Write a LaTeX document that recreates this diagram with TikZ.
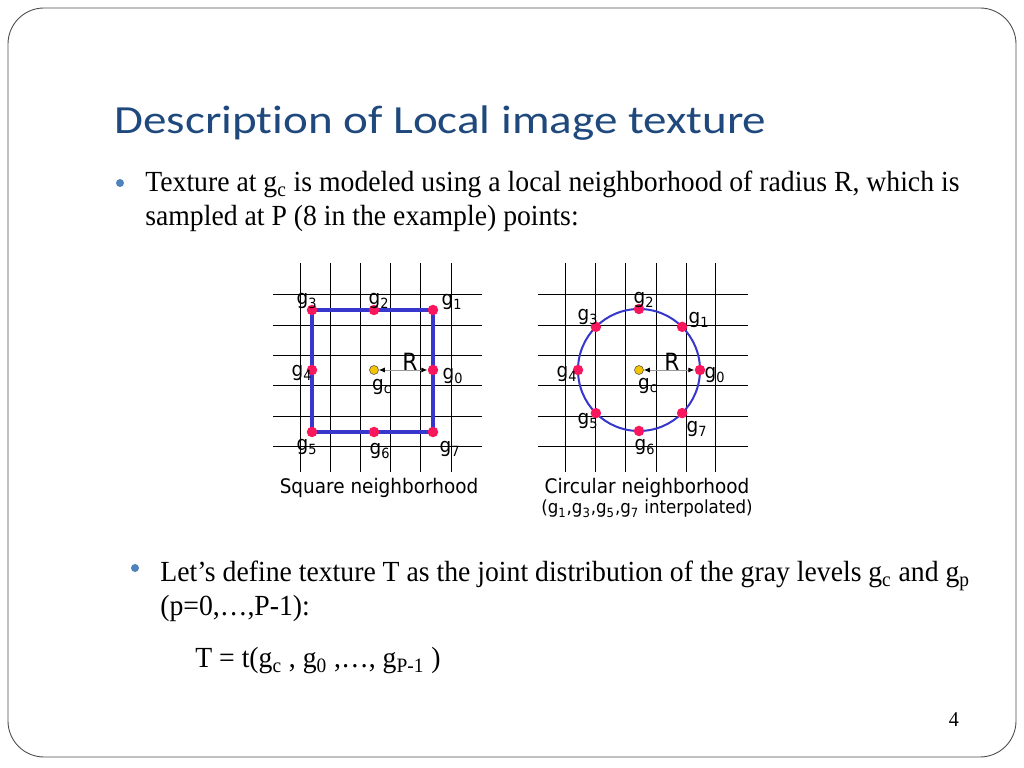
\documentclass[tikz,border=0pt]{standalone}
\usepackage{fontspec}
\setmainfont{Liberation Serif}[FakeStretch=0.95]
\newfontfamily\titlefont{Carlito}[FakeStretch=1.18, Ligatures=NoCommon]
\newfontfamily\figfont{DejaVu Sans}[FakeStretch=0.92]
\usetikzlibrary{calc, arrows.meta}

\definecolor{titleblue}{RGB}{31,73,125}
\definecolor{bulletblue}{RGB}{79,129,189}
\definecolor{nbrblue}{RGB}{55,55,205}
\definecolor{dotred}{RGB}{248,22,92}
\definecolor{dotyellow}{RGB}{245,196,0}

\newcommand{\gl}[1]{g\textsubscript{#1}}

\tikzset{
    txt/.style={anchor=base west, inner sep=0pt, font=\fontsize{16.6}{19}\selectfont},
    glabel/.style={inner sep=0pt, font=\figfont\fontsize{11.4}{13}\selectfont},
    sample/.style={circle, fill=dotred, inner sep=0pt, minimum size=2.1mm},
    centre/.style={circle, fill=dotyellow, draw=black!70, line width=0.3pt, inner sep=0pt, minimum size=1.8mm},
    bullet/.style={circle, fill=bulletblue, inner sep=0pt, minimum size=1.6mm},
    radius arrow/.style={draw=black!40, line width=0.5pt,
        {Latex[black, length=1.2mm, width=1mm]}-{Latex[black, length=1.2mm, width=1mm]}},
}

\begin{document}
\begin{tikzpicture}[x=0.2mm, y=-0.2mm]
    \useasboundingbox (0,0) rectangle (1024,768);
    \draw[black!70, line width=0.5pt, rounded corners=7.2mm] (8,8) rectangle (1016,757);

    \node[anchor=base west, inner sep=0pt, text=titleblue,
        font=\titlefont\fontsize{22.7}{27}\selectfont] (title) at (114,134)
        {Description of Local image texture};

    \node[bullet] (b1) at (120,183) {};
    \node[txt] (l1) at (145,192)
        {Texture at \gl{c} is modeled using a local neighborhood of radius R, which is};
    \node[txt] (l2) at (145,226) {sampled at P (8 in the example) points:};

    % square neighborhood
    \foreach \x in {300,330,360,390,420,451}
        \draw[line width=0.5pt] (\x,263) -- (\x,472);
    \foreach \y in {294,325,355,385,416,446}
        \draw[line width=0.5pt] (273,\y) -- (482,\y);

    \coordinate (p0) at (433,370);
    \coordinate (p1) at (433,310);
    \coordinate (p2) at (374,310);
    \coordinate (p3) at (312,310);
    \coordinate (p4) at (312,370);
    \coordinate (p5) at (312,432);
    \coordinate (p6) at (374,432);
    \coordinate (p7) at (433,432);

    \draw[nbrblue, line width=0.8mm] (p1) -- (p3) -- (p5) -- (p7) -- cycle;
    \foreach \k in {0,...,7}
        \node[sample] (s\k) at (p\k) {};
    \node[centre] (sc) at (374,370) {};
    \draw[radius arrow] (sc) -- (s0);

    \node[glabel] at (307,301) {\gl{3}};
    \node[glabel] at (379,301) {\gl{2}};
    \node[glabel] at (452,302) {\gl{1}};
    \node[glabel] at (302,373) {\gl{4}};
    \node[glabel] at (453,376) {\gl{0}};
    \node[glabel] at (382,387) {\gl{c}};
    \node[glabel] at (307,447) {\gl{5}};
    \node[glabel] at (380,451) {\gl{6}};
    \node[glabel] at (450,449) {\gl{7}};
    \node[glabel, font=\figfont\fontsize{13.5}{15}\selectfont] at (410,362) {R};
    \node[glabel] (sqname) at (379,488) {Square neighborhood};

    % circular neighborhood
    \foreach \x in {565,595,625,656,686,715}
        \draw[line width=0.5pt] (\x,263) -- (\x,472);
    \foreach \y in {294,325,355,385,416,446}
        \draw[line width=0.5pt] (538,\y) -- (748,\y);

    \coordinate (cc) at (639,370);
    \draw[nbrblue, line width=0.4mm] (cc) circle (61);
    \foreach \k in {0,...,7}
        \node[sample] (c\k) at ($(cc)+({-45*\k}:61)$) {};
    \node[centre] (ccen) at (cc) {};
    \draw[radius arrow] (ccen) -- (c0);

    \node[glabel] at (644,300) {\gl{2}};
    \node[glabel] at (699,320) {\gl{1}};
    \node[glabel] at (588,317) {\gl{3}};
    \node[glabel] at (567,374) {\gl{4}};
    \node[glabel] at (715,375) {\gl{0}};
    \node[glabel] at (648,386) {\gl{c}};
    \node[glabel] at (588,421) {\gl{5}};
    \node[glabel] at (697,429) {\gl{7}};
    \node[glabel] at (645,447) {\gl{6}};
    \node[glabel, font=\figfont\fontsize{13.5}{15}\selectfont] at (672,362) {R};
    \node[glabel] (circname) at (647,488) {Circular neighborhood};
    \node[glabel, font=\figfont\fontsize{10.3}{12}\selectfont] (interp) at (647,509)
        {(\gl{1},\gl{3},\gl{5},\gl{7} interpolated)};

    \node[bullet] (b2) at (135,568) {};
    \node[txt] (l3) at (160,582)
        {Let’s define texture T as the joint distribution of the gray levels \gl{c} and \gl{p}};
    \node[txt] (l4) at (160,616) {(p=0,…,P-1):};
    \node[txt] (l5) at (195,668) {T = t(\gl{c} , \gl{0} ,…, \gl{P-1} )};

    \node[inner sep=0pt, font=\fontsize{12}{14}\selectfont] (pagenum) at (954,720) {4};
\end{tikzpicture}
\end{document}
